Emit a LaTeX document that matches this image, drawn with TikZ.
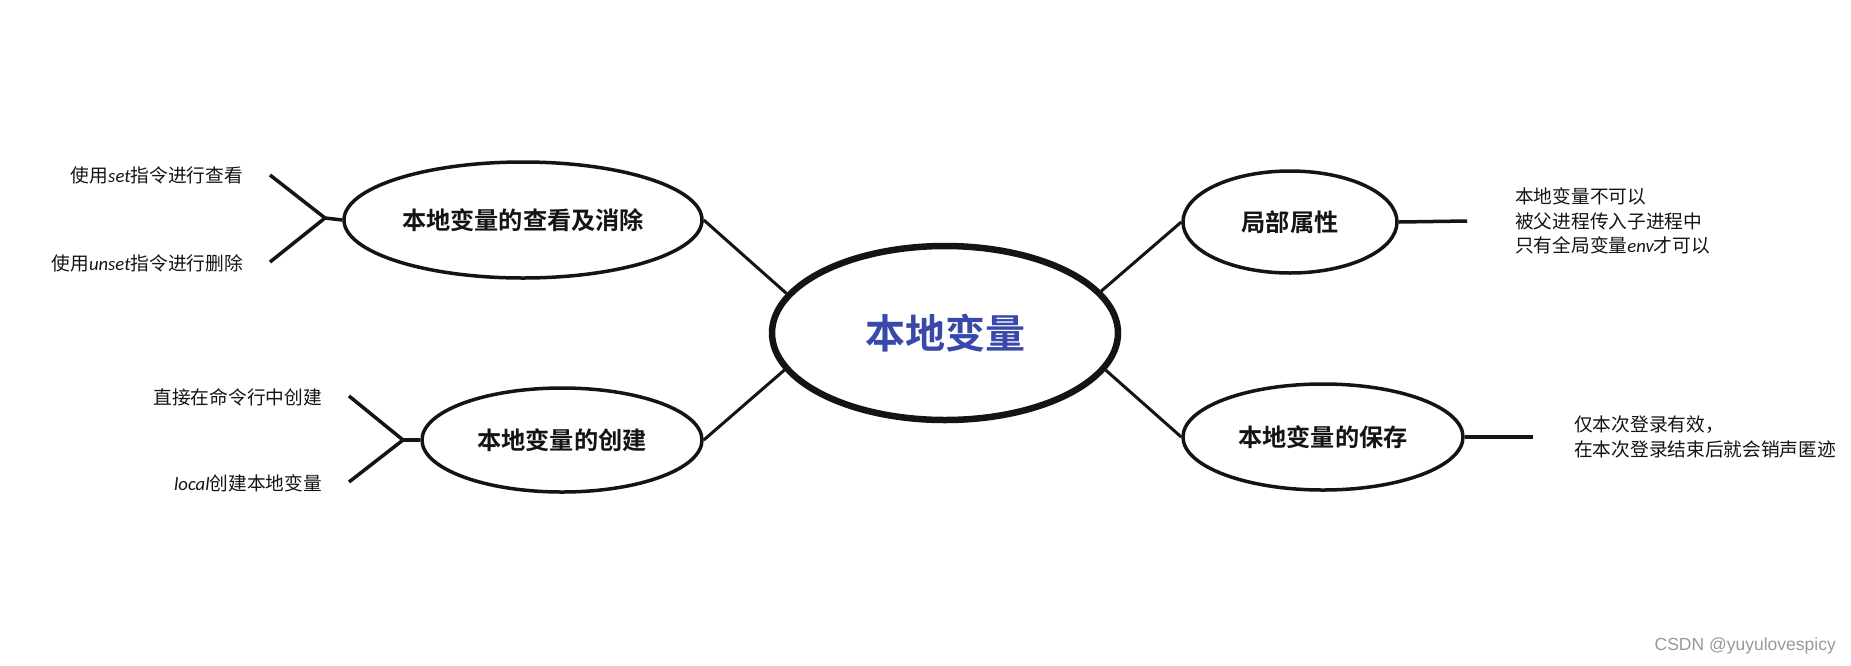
\documentclass[tikz,border=0pt]{standalone}
\usepackage{fontspec}
\usetikzlibrary{shapes.geometric}
\newfontfamily\cjk{Noto Sans CJK SC}[BoldFont={Noto Sans CJK SC Bold}]
\newfontfamily\lat{Carlito}
\newfontfamily\wm{Liberation Sans}
\definecolor{mainblue}{RGB}{58,72,170}
\definecolor{ink}{RGB}{20,20,20}
\begin{document}
\begin{tikzpicture}[x=1pt,y=-1pt,
  bub/.style={ellipse,draw=ink,line width=3.5pt,inner sep=0pt,font=\cjk\bfseries\fontsize{24.2}{28}\selectfont,text=ink},
  conn/.style={draw=ink,line width=3pt},
  leaf/.style={font=\cjk\fontsize{18.7}{24.5}\selectfont,text=ink,inner sep=0pt,align=left}]
\useasboundingbox[fill=white] (0,0) rectangle (1851,665);
% central
\node[ellipse,draw=ink,line width=6.5pt,minimum width=346pt,minimum height=174pt,inner sep=0pt,
  font=\cjk\bfseries\fontsize{40}{44}\selectfont,text=mainblue] (c) at (945,333) {本地变量};
% branches
\node[bub,minimum width=358pt,minimum height=116pt] (tl) at (523,220) {本地变量的查看及消除};
\node[bub,minimum width=280pt,minimum height=104pt] (bl) at (562,440) {本地变量的创建};
\node[bub,minimum width=214pt,minimum height=102pt] (tr) at (1290,222) {局部属性};
\node[bub,minimum width=280pt,minimum height=106pt] (br) at (1323,437) {本地变量的保存};
% connectors to centre
\draw[conn] (tl.east) -- (c.166);
\draw[conn] (bl.east) -- (c.193);
\draw[conn] (tr.west) -- (c.15);
\draw[conn] (br.west) -- (c.-13);
% left forks
\coordinate (j1) at (325,218);
\coordinate (a1) at (270,175);
\coordinate (b1) at (270,262);
\draw[conn,line width=3.5pt] (tl.west) -- (j1);
\draw[conn,line width=3.5pt] (a1) -- (j1) -- (b1);
\coordinate (j2) at (403,440);
\coordinate (a2) at (349,396);
\coordinate (b2) at (349,482);
\draw[conn,line width=3.5pt] (bl.west) -- (j2);
\draw[conn,line width=3.5pt] (a2) -- (j2) -- (b2);
% right stubs
\coordinate (s1) at (1467,221);
\coordinate (s2) at (1533,437);
\draw[conn,line width=3.5pt] (tr.east) -- (s1);
\draw[conn,line width=3.5pt] (br.east) -- (s2);
% leaf texts
\node[leaf,anchor=east] (l1) at (243,175) {使用{\lat\itshape set}指令进行查看};
\node[leaf,anchor=east] (l2) at (243,263) {使用{\lat\itshape unset}指令进行删除};
\node[leaf,anchor=east] (l3) at (322,397) {直接在命令行中创建};
\node[leaf,anchor=east] (l4) at (322,483) {{\lat\itshape local}创建本地变量};
\node[leaf,anchor=west] (r1) at (1515,221) {本地变量不可以\\被父进程传入子进程中\\只有全局变量{\lat\itshape env}才可以};
\node[leaf,anchor=west] (r2) at (1574,437) {仅本次登录有效，\\在本次登录结束后就会销声匿迹};
% watermark
\node[font=\wm\fontsize{17.5}{20}\selectfont,text=black!40,anchor=east,inner sep=0pt] (wm) at (1836,646) {CSDN @yuyulovespicy};
\end{tikzpicture}
\end{document}
